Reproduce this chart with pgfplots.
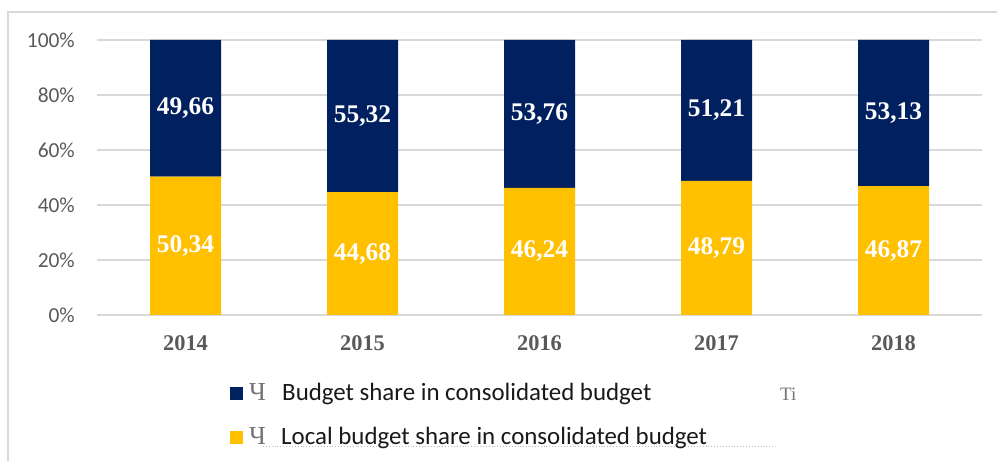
\documentclass[border=0pt]{standalone}
\usepackage{pgfplots}
\pgfplotsset{compat=1.18}
\usepackage{fontspec}
\setmainfont{Liberation Serif}
\newfontfamily\calfont{Carlito}
\definecolor{navy}{HTML}{002060}
\definecolor{gold}{HTML}{FFC000}
\definecolor{gridgray}{HTML}{D9D9D9}
\definecolor{labgray}{HTML}{595959}

% shares, %
\pgfplotstableread{
x local budget
0 50.34 49.66
1 44.68 55.32
2 46.24 53.76
3 48.79 51.21
4 46.87 53.13
}\shares

\begin{document}
\begin{tikzpicture}[x=1bp,y=1bp]
\useasboundingbox (0,0) rectangle (997,461);
\fill[white] (0,0) rectangle (997,461);
% chart frame
\draw[gridgray, line width=1.2bp] (8,-5) -- (8,449) -- (1005,449);

\begin{axis}[
  at={(97bp,146bp)}, anchor=south west,
  scale only axis, width=885bp, height=275bp,
  ybar stacked, bar width=71bp,
  xmin=-0.5, xmax=4.5, ymin=0, ymax=100,
  xtick={0,...,4}, xticklabels={2014,2015,2016,2017,2018},
  ytick={0,20,...,100},
  yticklabel={\pgfmathparse{int(\tick)}\pgfmathresult\%},
  yticklabel style={font=\calfont\fontsize{21.5}{24}\selectfont, text=labgray,
    anchor=east, inner sep=0pt, xshift=-22bp},
  xticklabel style={font=\fontsize{22.5}{26}\selectfont\bfseries, text=labgray,
    anchor=north, inner sep=0pt, yshift=-20bp},
  axis line style={draw=none}, tick style={draw=none},
  ymajorgrids, grid style={gridgray, line width=1.2bp},
  point meta=rawy,
  nodes near coords={\pgfmathprintnumber[fixed,fixed zerofill,precision=2,use comma,assume math mode=true]{\pgfplotspointmeta}},
  every node near coord/.append style={font=\fontsize{25.5}{28}\selectfont\bfseries,
    text=white, anchor=center, inner sep=0pt},
]
\addplot[fill=gold, draw=none] table[x=x, y=local] {\shares};
\addplot[fill=navy, draw=none] table[x=x, y=budget] {\shares};
\end{axis}

% legend
\fill[navy] (230,61) rectangle (243,74);
\fill[gold] (230,17) rectangle (243,30);
\node[anchor=base west, inner sep=0pt, text=black!55, font=\fontsize{26}{28}\selectfont] at (249,60) {Ч};
\node[anchor=base west, inner sep=0pt, text=black!90, font=\calfont\fontsize{25}{28}\selectfont] at (282,60) {Budget share in consolidated budget};
\node[anchor=base west, inner sep=0pt, text=black!55, font=\fontsize{19}{21}\selectfont] at (780,60) {Ti};
\draw[gray!55, dotted, line width=0.9bp] (263,15) -- (775,15);
\node[anchor=base west, inner sep=0pt, text=black!55, font=\fontsize{26}{28}\selectfont] at (249,16) {Ч};
\node[anchor=base west, inner sep=0pt, text=black!90, font=\calfont\fontsize{25}{28}\selectfont] at (281,16) {Local budget share in consolidated budget};
\end{tikzpicture}
\end{document}
